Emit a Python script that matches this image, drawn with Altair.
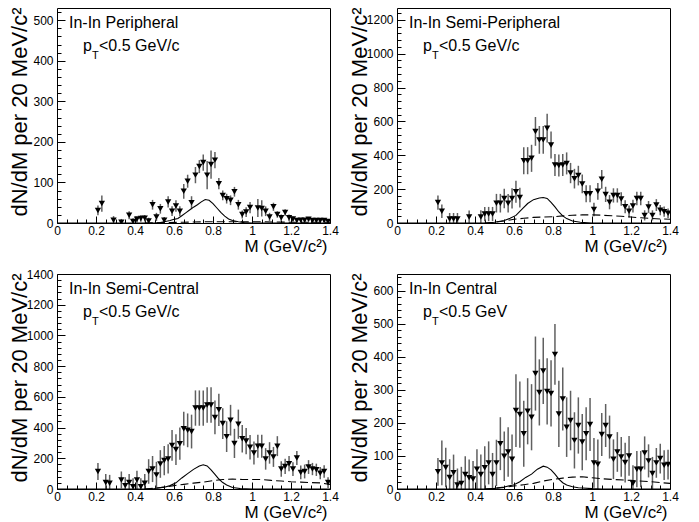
import altair as alt
import pandas as pd

PANEL_TITLES = ["In-In Peripheral", "In-In Semi-Peripheral", "In-In Semi-Central", "In-In Central"]
PT_CUTS = ["<0.5 GeV/c", "<0.5 GeV/c", "<0.5 GeV/c", "<0.5 GeV"]
Y_MAX = [530, 1270, 1400, 650]
Y_MAJOR = [100, 200, 200, 100]
Y_MINOR = [20, 40, 40, 20]
X_TITLE = "M (GeV/c²)"
Y_TITLE = "dN/dM per 20 MeV/c²"

# ---- Peripheral
P_M = [0.21, 0.23, 0.29, 0.33, 0.37, 0.39, 0.41, 0.43, 0.45, 0.47, 0.49, 0.51, 0.53, 0.55, 0.57, 0.59,
       0.61, 0.63, 0.65, 0.67, 0.69, 0.71, 0.73, 0.75, 0.77, 0.79, 0.81, 0.83, 0.85, 0.87, 0.89,
       0.91, 0.93, 0.95, 0.97, 0.99, 1.03, 1.05, 1.07, 1.09, 1.11, 1.13, 1.15, 1.17, 1.19,
       1.21, 1.23, 1.25, 1.27, 1.29, 1.31, 1.33, 1.35, 1.37, 1.39]
P_V = [31, 48, 7, 2, 19, 4, 9, 11, 12, 5, 45, 15, 35, 7, 52, 29, 42, 29, 78, 103, 50,
       118, 139, 149, 118, 144, 155, 97, 68, 60, 56, 77, 45, 21, 27, 38, 37, 36, 29, 15,
       40, 21, 13, 26, 13, 10, 6, 7, 7, 9, 6, 6, 6, 6, 4]
P_E = [12, 20, 10, 8, 10, 8, 8, 8, 8, 8, 12, 10, 12, 8, 14, 12, 14, 12, 18, 16, 16,
       20, 16, 20, 35, 35, 20, 14, 12, 12, 12, 12, 12, 10, 12, 14, 22, 20, 12, 10,
       10, 8, 8, 8, 8, 6, 5, 5, 5, 5, 5, 5, 5, 5, 4]
P_SOLID_M = [0.0, 0.50, 0.53, 0.55, 0.58, 0.60, 0.62, 0.64, 0.66, 0.68, 0.70, 0.72, 0.74, 0.76, 0.78,
             0.80, 0.82, 0.84, 0.86, 0.88, 0.90, 0.93, 0.96, 1.0, 1.4]
P_SOLID_V = [0, 0, 1, 3, 6, 9, 11, 18, 25, 32, 39, 45, 52, 58, 56, 48, 37, 26, 17, 10, 6, 3, 1, 0, 0]
P_DASH_M = [0.45, 0.55, 0.65, 0.75, 0.85, 0.95, 1.05, 1.2, 1.4]
P_DASH_V = [0, 1, 2, 3, 3, 3, 3, 2, 2]

# ---- Semi-Peripheral
SP_M = [0.21, 0.23, 0.27, 0.29, 0.31, 0.37, 0.43, 0.45, 0.47, 0.49, 0.51, 0.53, 0.55, 0.57, 0.59,
        0.61, 0.63, 0.65, 0.67, 0.69, 0.71, 0.73, 0.75, 0.77, 0.79, 0.81, 0.83, 0.85, 0.87, 0.89,
        0.91, 0.93, 0.95, 0.97, 0.99, 1.01, 1.03, 1.05, 1.07, 1.09, 1.11, 1.13, 1.15, 1.17, 1.19,
        1.21, 1.23, 1.25, 1.27, 1.29, 1.31, 1.33, 1.35, 1.37, 1.39]
SP_V = [121, 69, 24, 24, 24, 36, 36, 53, 53, 53, 117, 117, 145, 117, 145, 184, 150, 368, 368, 382,
        541, 491, 491, 560, 461, 343, 340, 343, 352, 295, 262, 280, 231, 173, 173, 80, 187, 258, 169, 123,
        163, 163, 142, 96, 69, 100, 145, 145, 45, 95, 45, 106, 76, 67, 57]
SP_E = [42, 40, 35, 35, 35, 38, 40, 42, 42, 42, 55, 55, 58, 55, 60, 65, 58, 80, 80, 80,
        85, 82, 82, 85, 80, 65, 65, 65, 65, 60, 58, 58, 55, 50, 50, 40, 50, 55, 45, 42,
        42, 42, 40, 38, 35, 38, 40, 40, 30, 35, 30, 35, 30, 30, 28]
SP_SOLID_M = [0.0, 0.45, 0.50, 0.55, 0.58, 0.61, 0.64, 0.67, 0.70, 0.73, 0.75, 0.77, 0.79, 0.81, 0.83,
              0.85, 0.87, 0.90, 0.94, 1.0, 1.4]
SP_SOLID_V = [0, 0, 4, 15, 28, 45, 80, 115, 138, 148, 151, 145, 122, 95, 65, 42, 26, 12, 4, 0, 0]
SP_DASH_M = [0.45, 0.50, 0.55, 0.60, 0.65, 0.70, 0.75, 0.80, 0.85, 0.90, 0.95, 1.0, 1.05, 1.10,
             1.15, 1.20, 1.25, 1.30, 1.35, 1.40]
SP_DASH_V = [0, 4, 12, 22, 28, 33, 35, 37, 42, 46, 48, 48, 46, 43, 40, 35, 31, 27, 24, 22]

# ---- Semi-Central
SC_M = [0.21, 0.25, 0.27, 0.33, 0.35, 0.37, 0.39, 0.41, 0.43, 0.45, 0.47, 0.49, 0.51, 0.53, 0.55,
        0.57, 0.59, 0.61, 0.63, 0.65, 0.67, 0.69, 0.71, 0.73, 0.75, 0.77, 0.79, 0.81, 0.83, 0.85,
        0.87, 0.89, 0.91, 0.93, 0.95, 0.97, 0.99, 1.01, 1.03, 1.05, 1.07, 1.09, 1.11, 1.13, 1.15,
        1.17, 1.19, 1.21, 1.23, 1.25, 1.27, 1.29, 1.31, 1.33, 1.35, 1.37, 1.39]
SC_V = [114, 42, 37, 59, 22, 42, 15, 59, 15, 37, 114, 130, 92, 163, 185, 196, 284,
        257, 295, 393, 382, 374, 527, 527, 527, 547, 547, 466, 516, 426, 341, 448,
        297, 422, 327, 312, 272, 235, 279, 279, 196, 235, 209, 279, 130, 147, 165,
        130, 202, 108, 114, 143, 130, 125, 103, 114, 42]
SC_E = [55, 55, 55, 55, 55, 55, 55, 60, 55, 60, 80, 85, 85, 90, 95, 95, 100,
        100, 105, 110, 110, 110, 115, 115, 115, 115, 115, 110, 105, 100, 100, 100,
        95, 95, 90, 85, 80, 75, 75, 75, 70, 70, 65, 65, 50, 50, 50,
        45, 45, 45, 45, 45, 40, 40, 40, 40, 35]
SC_SOLID_M = [0.0, 0.45, 0.50, 0.55, 0.58, 0.61, 0.64, 0.67, 0.70, 0.73, 0.75, 0.77, 0.79, 0.81, 0.83,
              0.85, 0.87, 0.90, 0.94, 1.0, 1.4]
SC_SOLID_V = [0, 0, 3, 12, 22, 40, 72, 100, 128, 150, 158, 150, 125, 95, 65, 42, 26, 10, 3, 0, 0]
SC_DASH_M = [0.45, 0.50, 0.55, 0.60, 0.65, 0.70, 0.75, 0.80, 0.85, 0.90, 0.95, 1.0, 1.05, 1.10,
             1.15, 1.20, 1.25, 1.30, 1.35, 1.40]
SC_DASH_V = [0, 5, 12, 22, 30, 38, 45, 55, 62, 64, 62, 62, 62, 56, 52, 47, 45, 42, 40, 30]

# ---- Central
C_M = [0.21, 0.23, 0.25, 0.27, 0.29, 0.31, 0.33, 0.35, 0.37, 0.39, 0.41, 0.43, 0.45, 0.47, 0.49,
       0.51, 0.53, 0.55, 0.57, 0.59, 0.61, 0.63, 0.65, 0.67, 0.69, 0.71, 0.73, 0.75, 0.77, 0.79,
       0.81, 0.83, 0.85, 0.87, 0.89, 0.91, 0.93, 0.95, 0.97, 0.99, 1.01, 1.03, 1.05, 1.07, 1.09,
       1.11, 1.13, 1.15, 1.17, 1.19, 1.21, 1.23, 1.25, 1.27, 1.29, 1.31, 1.33, 1.35, 1.37, 1.39]
C_V = [52, 79, 65, 35, 49, 12, 17, 44, 34, 30, 60, 44, 64, 79, 44, 79, 137, 99, 112, 90,
       237, 225, 167, 235, 217, 349, 292, 357, 295, 289, 407, 227, 272, 187, 207, 147, 192, 142, 167, 195,
       79, 75, 165, 192, 157, 90, 112, 97, 80, 100, 17, 60, 60, 109, 85, 47, 79, 92, 72, 74]
C_E = [42, 68, 60, 55, 55, 50, 50, 55, 55, 55, 60, 60, 65, 65, 65, 70, 80, 75, 75, 75,
       110, 100, 100, 100, 100, 112, 100, 100, 100, 100, 92, 100, 95, 90, 90, 85, 85, 85, 80, 80,
       75, 75, 65, 65, 65, 60, 60, 60, 60, 60, 55, 55, 55, 50, 50, 50, 45, 45, 45, 45]
C_SOLID_M = [0.0, 0.45, 0.50, 0.55, 0.60, 0.63, 0.66, 0.69, 0.72, 0.75, 0.77, 0.79, 0.81, 0.83, 0.85,
             0.87, 0.90, 0.93, 1.0, 1.05, 1.4]
C_SOLID_V = [0, 0, 2, 6, 13, 22, 35, 45, 60, 69, 66, 58, 45, 30, 19, 12, 7, 4, 1, 0, 0]
C_DASH_M = [0.45, 0.50, 0.55, 0.60, 0.65, 0.70, 0.75, 0.80, 0.85, 0.90, 0.95, 1.0, 1.05, 1.10,
            1.20, 1.30, 1.40]
C_DASH_V = [0, 2, 5, 9, 13, 17, 24, 29, 33, 36, 37, 34, 31, 29, 26, 22, 17]

PANELS = [
    (P_M, P_V, P_E, P_SOLID_M, P_SOLID_V, P_DASH_M, P_DASH_V),
    (SP_M, SP_V, SP_E, SP_SOLID_M, SP_SOLID_V, SP_DASH_M, SP_DASH_V),
    (SC_M, SC_V, SC_E, SC_SOLID_M, SC_SOLID_V, SC_DASH_M, SC_DASH_V),
    (C_M, C_V, C_E, C_SOLID_M, C_SOLID_V, C_DASH_M, C_DASH_V),
]

W, H = 273, 215
FONT = "Liberation Sans"
X_TICKS = [round(i * 0.05, 2) for i in range(29)]
X_MAJOR_TEST = "abs(datum.value*5 - round(datum.value*5)) < 0.001"


def make_panel(i):
    m, v, e, sm, sv, dm, dv = PANELS[i]
    ymax, major, minor = Y_MAX[i], Y_MAJOR[i], Y_MINOR[i]
    y_ticks = [k * minor for k in range(int(ymax // minor) + 1)]

    xscale = alt.Scale(domain=[0, 1.4], nice=False, zero=False)
    yscale = alt.Scale(domain=[0, ymax], nice=False)
    xaxis = alt.Axis(
        values=X_TICKS, domain=False, grid=False,
        tickSize={"expr": f"{X_MAJOR_TEST} ? -7 : -4"},
        labelExpr=f"{X_MAJOR_TEST} ? '' + round(datum.value*10)/10 : ''",
        labelPadding=9, labelFlush=False, labelOverlap=False,
        labelFont=FONT, labelFontSize=12, labelColor="black",
        title=X_TITLE, titleX=W - 3, titleY=28, titleAlign="right",
        titleBaseline="alphabetic", titleAnchor="end",
        titleFont=FONT, titleFontSize=17, titleFontWeight="normal", titleColor="black",
        tickColor="black",
    )
    yaxis = alt.Axis(
        values=y_ticks, domain=False, grid=False,
        tickSize={"expr": f"datum.value % {major} === 0 ? -8 : -4"},
        labelExpr=f"datum.value % {major} === 0 ? datum.label : ''",
        labelPadding=12, labelOverlap=False, format="d",
        labelFont=FONT, labelFontSize=12, labelColor="black",
        title=Y_TITLE, titleX=-31, titleY=-1, titleAngle=-90, titleAlign="right",
        titleBaseline="alphabetic", titleAnchor="end",
        titleFont=FONT, titleFontSize=22, titleFontWeight="normal", titleColor="black",
        tickColor="black",
    )

    pts = pd.DataFrame({"m": m, "v": v, "e": e})
    pts["lo"] = pts["v"] - pts["e"]
    pts["hi"] = pts["v"] + pts["e"]

    X = alt.X("m:Q", scale=xscale, axis=xaxis)
    bars = alt.Chart(pts).mark_rule(color="#606060", strokeWidth=1.5, clip=True).encode(
        x=X, y=alt.Y("lo:Q", scale=yscale, axis=yaxis), y2="hi:Q")
    marks = alt.Chart(pts).mark_point(shape="triangle-down", filled=True, color="black",
                                      size=40, opacity=1, clip=True).encode(
        x=X, y=alt.Y("v:Q", scale=yscale, axis=yaxis))
    solid = alt.Chart(pd.DataFrame({"m": sm, "v": sv})).mark_line(
        color="black", strokeWidth=1.1, clip=True).encode(
        x=X, y=alt.Y("v:Q", scale=yscale, axis=yaxis))
    dashed = alt.Chart(pd.DataFrame({"m": dm, "v": dv})).mark_line(
        color="black", strokeWidth=1.1, strokeDash=[8, 4], clip=True).encode(
        x=X, y=alt.Y("v:Q", scale=yscale, axis=yaxis))

    tdf = pd.DataFrame({"t": [PANEL_TITLES[i]], "p": ["p"], "s": ["T"], "c": [PT_CUTS[i]]})
    title = alt.Chart(tdf).mark_text(align="left", baseline="alphabetic", fontSize=16, font=FONT,
                                     color="black").encode(
        x=alt.value(12), y=alt.value(20), text="t:N")
    p_txt = alt.Chart(tdf).mark_text(align="left", baseline="alphabetic", fontSize=16, font=FONT,
                                     color="black").encode(
        x=alt.value(26), y=alt.value(43), text="p:N")
    s_txt = alt.Chart(tdf).mark_text(align="left", baseline="alphabetic", fontSize=11, font=FONT,
                                     color="black").encode(
        x=alt.value(35), y=alt.value(51), text="s:N")
    c_txt = alt.Chart(tdf).mark_text(align="left", baseline="alphabetic", fontSize=16, font=FONT,
                                     color="black").encode(
        x=alt.value(42), y=alt.value(43), text="c:N")

    return alt.layer(bars, solid, dashed, marks, title, p_txt, s_txt, c_txt).properties(
        width=W, height=H)


chart = alt.concat(
    *[make_panel(i) for i in range(4)],
    columns=2, spacing={"row": 51, "column": 67}, bounds="flush",
).properties(
    padding={"left": -1, "top": -3, "right": 0, "bottom": 0}
).configure_view(stroke="black", strokeWidth=1)

chart.save("out.html", embed_options={"renderer": "svg", "actions": False})
